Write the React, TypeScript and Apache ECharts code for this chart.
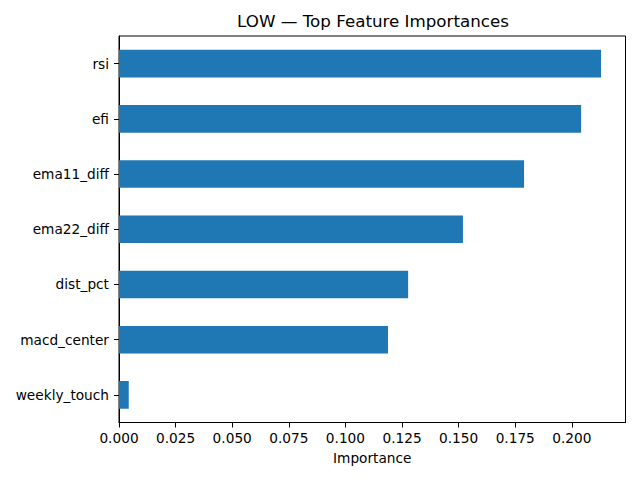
import React, { useEffect, useRef } from "react";
import * as echarts from "echarts";

const categories = ["weekly_touch", "macd_center", "dist_pct", "ema22_diff", "ema11_diff", "efi", "rsi"];
const importances = [0.0043, 0.1188, 0.1277, 0.1519, 0.1789, 0.2041, 0.2129];
const xTickStep = 0.025;
const xMax = 0.2237;

const FONT = "DejaVu Sans";

export default function App() {
  const ref = useRef<HTMLDivElement>(null);
  useEffect(() => {
    document.body.style.margin = "0";
    const chart = echarts.init(ref.current!, null, { renderer: "svg" });
    chart.setOption({
      animation: false,
      backgroundColor: "#ffffff",
      title: {
        text: "LOW \u2014 Top Feature Importances",
        left: 368,
        top: 7,
        textAlign: "center",
        textStyle: { fontFamily: FONT, fontSize: 16.7, fontWeight: "normal", color: "#000" },
      },
      grid: {
        left: 119,
        right: 14.5,
        top: 36,
        bottom: 57.5,
        show: true,
        borderColor: "#000",
        borderWidth: 1,
        backgroundColor: "transparent",
      },
      xAxis: {
        type: "value",
        min: 0,
        max: xMax,
        interval: xTickStep,
        name: "Importance",
        nameLocation: "middle",
        nameGap: 28,
        nameTextStyle: { fontFamily: FONT, fontSize: 13.7, color: "#000" },
        axisLine: { show: true, lineStyle: { color: "#000", width: 1 } },
        axisTick: { show: true, length: 5, lineStyle: { color: "#000" } },
        splitLine: { show: false },
        axisLabel: {
          fontFamily: FONT,
          fontSize: 13.7,
          color: "#000",
          margin: 8,
          showMaxLabel: false,
          formatter: (v: number) => {
            const k = v / xTickStep;
            return Math.abs(k - Math.round(k)) < 1e-6 ? v.toFixed(3) : "";
          },
        },
      },
      yAxis: {
        type: "category",
        data: categories,
        axisLine: { show: true, lineStyle: { color: "#000", width: 1 } },
        axisTick: { show: true, length: 5, alignWithLabel: true, lineStyle: { color: "#000" } },
        splitLine: { show: false },
        axisLabel: { fontFamily: FONT, fontSize: 13.7, color: "#000", margin: 10 },
      },
      series: [
        {
          type: "bar",
          data: importances,
          barWidth: "50%",
          itemStyle: { color: "#1f77b4" },
        },
      ],
    });
    return () => chart.dispose();
  }, []);
  return <div ref={ref} style={{ width: 640, height: 480, position: "absolute", left: 0, top: 0 }} />;
}
